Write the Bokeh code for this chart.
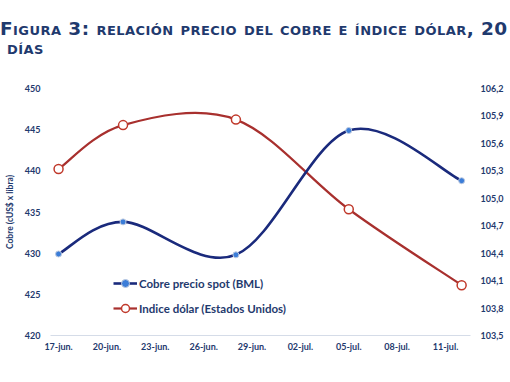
import numpy as np
import pandas as pd
from bokeh.plotting import figure
from bokeh.layouts import column
from bokeh.models import (Range1d, LinearAxis, FixedTicker, Legend, LegendItem,
                          CustomJSTickFormatter, Div)
from bokeh.embed import file_html
from bokeh.resources import INLINE

# ---- data ----
dates = ["2013-06-17", "2013-06-21", "2013-06-28", "2013-07-05", "2013-07-12"]
cobre = [429.9, 433.8, 429.8, 444.9, 438.8]          # cUS$ x libra (left axis)
dolar = [105.32, 105.80, 105.86, 104.88, 104.05]     # índice dólar (right axis)
x_tick_labels = ["17-jun.", "20-jun.", "23-jun.", "26-jun.", "29-jun.",
                 "02-jul.", "05-jul.", "08-jul.", "11-jul."]
left_ticks = [420, 425, 430, 435, 440, 445, 450]
right_ticks = [103.5, 103.8, 104.1, 104.4, 104.7, 105.0, 105.3, 105.6, 105.9, 106.2]
title_line1 = "Figura 3: relación precio del cobre e índice dólar, 20"
title_line2 = "días"

start = pd.Timestamp(dates[0])
xd = [(pd.Timestamp(d) - start).days for d in dates]
x_ticks = [3 * i for i in range(len(x_tick_labels))]

NAVY = "#1F3A6E"
FONT = "Lato"

W = 510
TH = 60            # title strip height
H = 382 - TH       # main chart height
BL, BR, BT, BB = 50, 40, 28, 47


def smooth_segments(xs, ys):
    """Excel-like smoothed line: cubic Bezier control points (Catmull-Rom)."""
    xs = np.asarray(xs, float)
    ys = np.asarray(ys, float)
    n = len(xs)
    px = np.concatenate([[xs[0]], xs, [xs[-1]]])
    py = np.concatenate([[ys[0]], ys, [ys[-1]]])
    i = np.arange(n - 1)
    return dict(
        x0=px[i + 1], y0=py[i + 1], x1=px[i + 2], y1=py[i + 2],
        cx0=px[i + 1] + (px[i + 2] - px[i]) / 6, cy0=py[i + 1] + (py[i + 2] - py[i]) / 6,
        cx1=px[i + 2] - (px[i + 3] - px[i + 1]) / 6, cy1=py[i + 2] - (py[i + 3] - py[i + 1]) / 6,
    )


# ---------------- title (small caps) ----------------
title_html = (
    f'<div style="font-family:\'DejaVu Sans\'; font-weight:bold; font-variant:small-caps; '
    f'font-size:18.5px; letter-spacing:0.45px; line-height:19px; color:{NAVY}; '
    f'white-space:nowrap; padding-top:19px; margin:0;">'
    f'{title_line1}<br>&nbsp;{title_line2}</div>'
)
title = Div(text=title_html, width=W, height=TH, margin=0)

# ---------------- main chart ----------------
p = figure(width=W, height=H, output_backend="svg", toolbar_location=None,
           x_range=Range1d(-0.5, 25.55), y_range=Range1d(420, 450),
           min_border_left=BL, min_border_right=BR, min_border_top=BT, min_border_bottom=BB)
p.outline_line_color = None
p.xgrid.visible = False
p.ygrid.visible = False
p.background_fill_color = "white"
p.border_fill_color = "white"

p.extra_y_ranges = {"usd": Range1d(103.5, 106.2)}

# x axis
p.xaxis.ticker = FixedTicker(ticks=x_ticks)
p.xaxis.major_label_overrides = {t_: l for t_, l in zip(x_ticks, x_tick_labels)}
p.xaxis.axis_line_color = "#D5DCE8"
p.xaxis.axis_line_width = 1
p.xaxis.major_tick_line_color = None
p.xaxis.minor_tick_line_color = None
p.xaxis.major_tick_out = 0
p.xaxis.major_tick_in = 0
p.xaxis.minor_tick_out = 0
p.xaxis.major_label_standoff = 5
p.xaxis.major_label_text_font = FONT
p.xaxis.major_label_text_font_style = "bold"
p.xaxis.major_label_text_font_size = "9px"
p.xaxis.major_label_text_color = NAVY

# left axis
p.yaxis.ticker = FixedTicker(ticks=left_ticks)
p.yaxis.axis_line_color = None
p.yaxis.major_tick_line_color = None
p.yaxis.minor_tick_line_color = None
p.yaxis.major_tick_out = 0
p.yaxis.major_tick_in = 0
p.yaxis.minor_tick_out = 0
p.yaxis.major_label_standoff = 10
p.yaxis.major_label_text_font = FONT
p.yaxis.major_label_text_font_style = "bold"
p.yaxis.major_label_text_font_size = "9px"
p.yaxis.major_label_text_color = NAVY
p.yaxis.axis_label = "Cobre (cUS$ x libra)"
p.yaxis.axis_label_standoff = 7
p.yaxis.axis_label_text_font = FONT
p.yaxis.axis_label_text_font_style = "bold"
p.yaxis.axis_label_text_font_size = "8.5px"
p.yaxis.axis_label_text_color = NAVY

# right axis
ax_r = LinearAxis(y_range_name="usd", ticker=FixedTicker(ticks=right_ticks),
                  formatter=CustomJSTickFormatter(code="return tick.toFixed(1).replace('.', ',')"))
ax_r.axis_line_color = None
ax_r.major_tick_line_color = None
ax_r.minor_tick_line_color = None
ax_r.major_tick_out = 0
ax_r.major_tick_in = 0
ax_r.minor_tick_out = 0
ax_r.major_label_standoff = 10
ax_r.major_label_text_font = FONT
ax_r.major_label_text_font_style = "bold"
ax_r.major_label_text_font_size = "9px"
ax_r.major_label_text_color = NAVY
p.add_layout(ax_r, "right")

# series
seg_c = smooth_segments(xd, cobre)
seg_d = smooth_segments(xd, dolar)

line_d = p.bezier(source=seg_d, x0="x0", y0="y0", x1="x1", y1="y1",
                  cx0="cx0", cy0="cy0", cx1="cx1", cy1="cy1",
                  line_color="#A8302E", line_width=2.2, y_range_name="usd")
line_c = p.bezier(source=seg_c, x0="x0", y0="y0", x1="x1", y1="y1",
                  cx0="cx0", cy0="cy0", cx1="cx1", cy1="cy1",
                  line_color="#1A2A7C", line_width=2.6)
pts_d = p.scatter(xd, dolar, marker="circle", size=9, fill_color="white",
                  line_color="#C0392B", line_width=1.5, y_range_name="usd")
pts_c = p.scatter(xd, cobre, marker="circle", size=6, fill_color="#3B7DD8",
                  line_color="#BFCBE0", line_width=1)

legend = Legend(items=[LegendItem(label="Cobre precio spot (BML)", renderers=[line_c, pts_c]),
                       LegendItem(label="Indice dólar (Estados Unidos)", renderers=[line_d, pts_d])],
                location=(63, 17), orientation="vertical")
legend.padding = 0
legend.margin = 0
legend.spacing = 5
legend.glyph_width = 24
legend.glyph_height = 20
legend.label_height = 20
legend.label_standoff = 2
legend.border_line_color = None
legend.background_fill_alpha = 0
legend.label_text_font = FONT
legend.label_text_font_style = "bold"
legend.label_text_font_size = "11.5px"
legend.label_text_color = NAVY
p.add_layout(legend, "center")

layout = column(title, p, spacing=0)
open("out.html", "w").write(file_html(layout, INLINE))
